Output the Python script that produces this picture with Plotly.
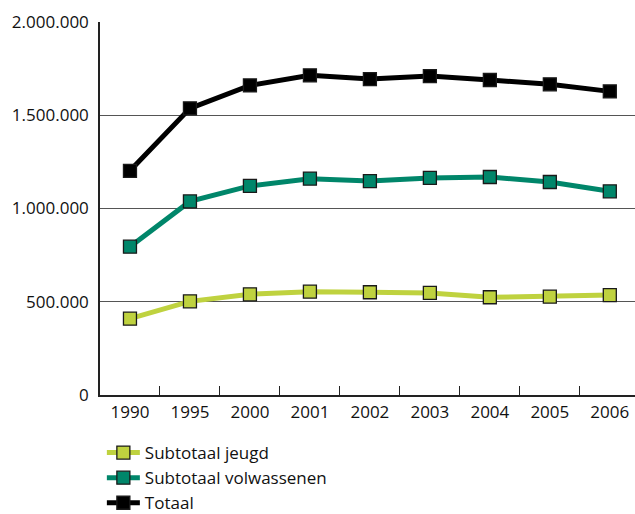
import plotly.graph_objects as go

years = ["1990", "1995", "2000", "2001", "2002", "2003", "2004", "2005", "2006"]
jeugd = [409000, 502000, 540000, 554000, 551000, 547000, 524000, 527000, 536000]
volwassenen = [795000, 1038000, 1121000, 1160000, 1147000, 1164000, 1169000, 1142000, 1092000]
totaal = [1202000, 1537000, 1660000, 1714000, 1694000, 1710000, 1689000, 1666000, 1628000]

y_ticks = [0, 500000, 1000000, 1500000, 2000000]
y_labels = ["0", "500.000", "1.000.000", "1.500.000", "2.000.000"]

series = [
    ("Subtotaal jeugd", jeugd, "#bfd23f"),
    ("Subtotaal volwassenen", volwassenen, "#00866a"),
    ("Totaal", totaal, "#000000"),
]

fig = go.Figure()
for name, vals, col in series:
    fig.add_trace(go.Scatter(
        x=years, y=vals, name=name, mode="lines+markers",
        line=dict(color=col, width=5),
        marker=dict(symbol="square", size=13, color=col,
                    line=dict(color="#1a1a1a", width=1.3)),
    ))

# paper area: x 80..635, y 22..514; plot box placed via domains
fig.update_layout(
    width=635, height=514,
    margin=dict(l=80, r=0, t=22, b=0, autoexpand=False),
    paper_bgcolor="white", plot_bgcolor="white",
    font=dict(family="Open Sans", size=17, color="#111111"),
    showlegend=True,
    legend=dict(x=0.0394, xanchor="left", y=-0.0142, yanchor="bottom",
                font=dict(size=17), tracegroupgap=0, itemwidth=33,
                bgcolor="rgba(0,0,0,0)"),
    xaxis=dict(type="category", range=[-0.5, 8.42], domain=[0.036, 1],
               showgrid=False, automargin=False,
               showline=True, linecolor="#222222", linewidth=1.5,
               ticks="inside", ticklen=9, tickcolor="#222222",
               tickson="boundaries", tickfont=dict(size=17), tickangle=0,
               ticklabelstandoff=1),
    yaxis=dict(range=[0, 2000000], tickvals=y_ticks, ticktext=y_labels,
               domain=[0.2419, 1], automargin=False,
               showgrid=True, gridcolor="#555555", gridwidth=1,
               showline=True, linecolor="#222222", linewidth=1.5,
               zeroline=False, ticks="", tickfont=dict(size=17),
               ticklabelstandoff=6),
)

fig.write_html("out.html", config={"displayModeBar": False},
               post_script="document.body.style.margin='0';document.body.style.overflow='hidden';")
